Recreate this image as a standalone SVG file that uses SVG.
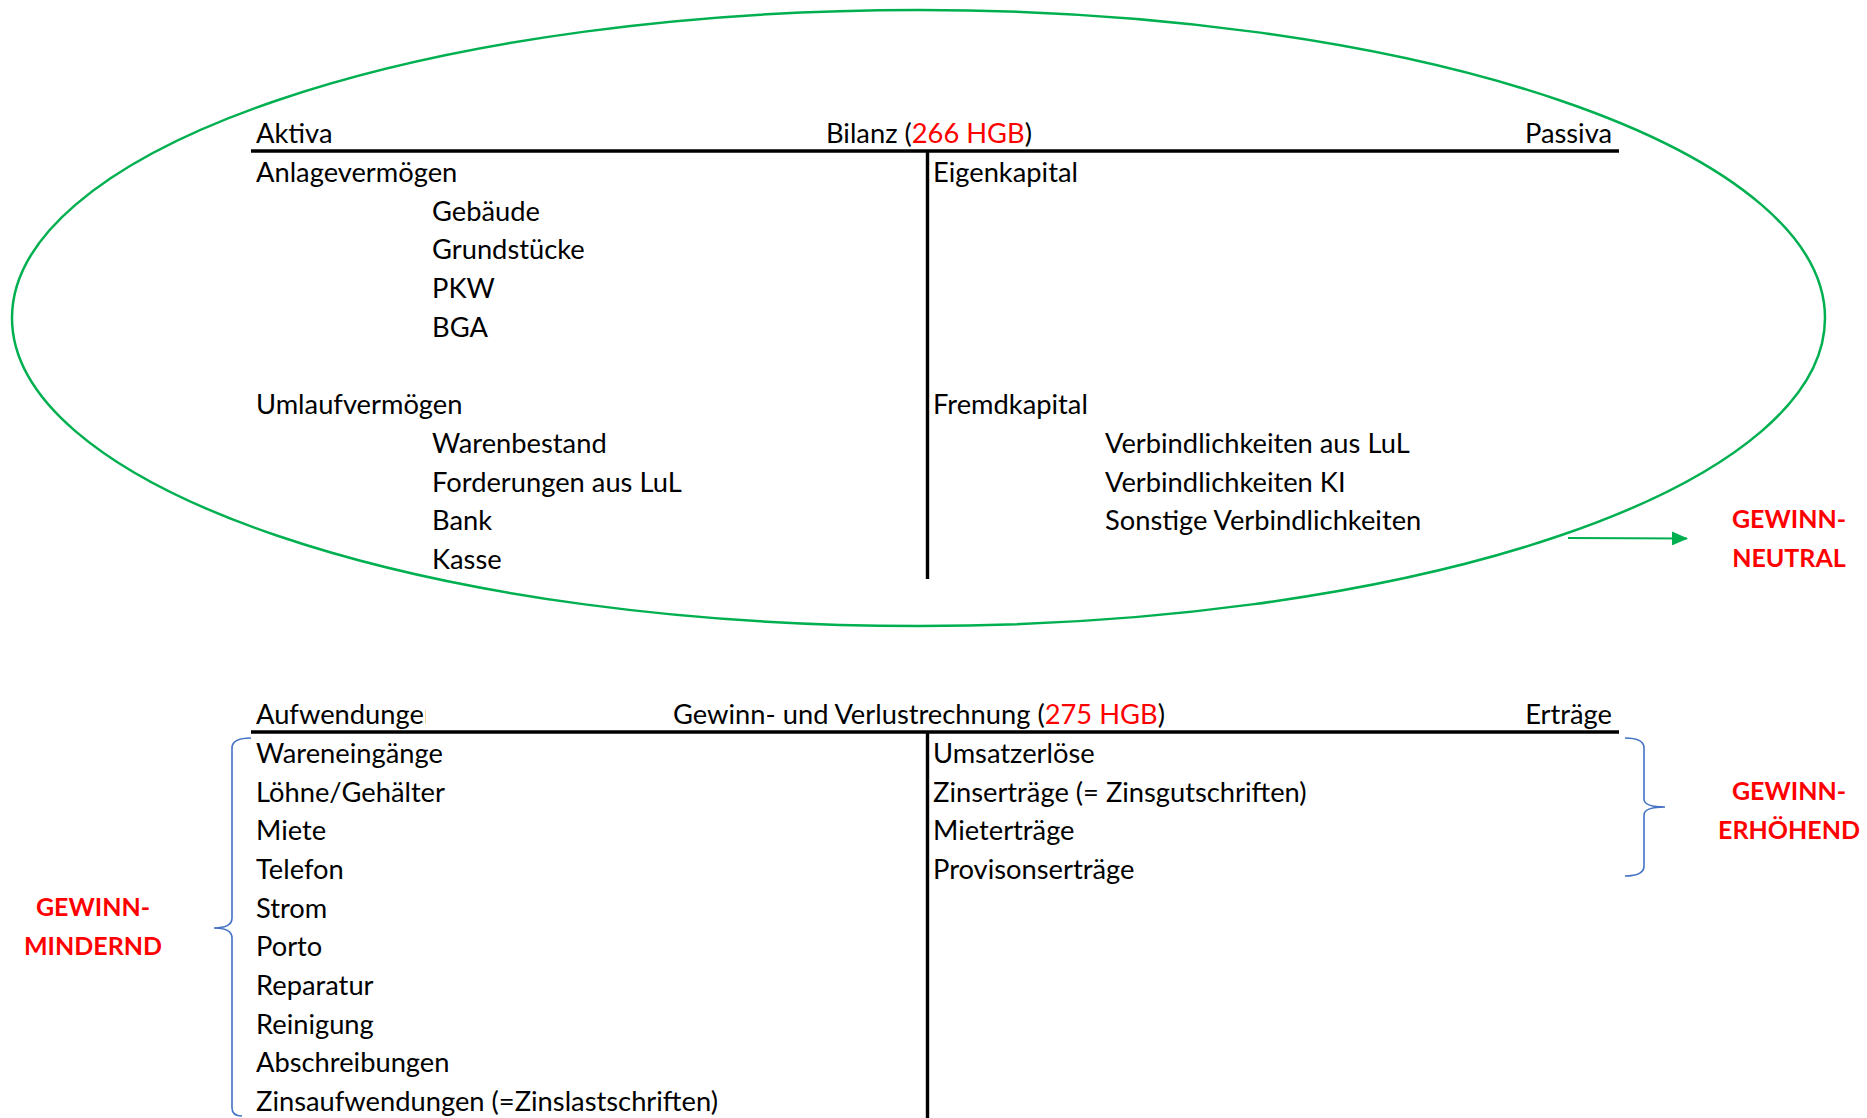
<svg xmlns="http://www.w3.org/2000/svg" width="1867" height="1118" viewBox="0 0 1867 1118">
  <style>
    text { font-family: Lato, "Open Sans", "Liberation Sans", sans-serif; font-size: 27.3px; fill: #000; }
    .red { fill: #FF0000; }
    .tag { font-weight: bold; font-size: 25px; fill: #FF0000; text-anchor: middle; }
    .rule { stroke: #000; stroke-width: 3.4; fill: none; }
    .brace { stroke: #4472C4; stroke-width: 1.6; fill: none; }
  </style>
  <defs>
    <marker id="arrowGreen" viewBox="0 0 16 14" refX="15" refY="7" markerWidth="16" markerHeight="14" markerUnits="userSpaceOnUse" orient="auto">
      <path d="M0,0 L16,7 L0,14 z" fill="#00B050"/>
    </marker>
    <clipPath id="clipAufw">
      <rect x="240" y="690" width="186" height="45"/>
    </clipPath>
  </defs>
  <rect width="1867" height="1118" fill="#fff"/>

  <!-- Bilanz T-account -->
  <g id="bilanz">
    <line class="rule" x1="251" y1="151" x2="1619" y2="151"/>
    <line class="rule" x1="927.5" y1="151" x2="927.5" y2="579"/>
    <text x="256" y="143">Aktiva</text>
    <text x="929" y="143" text-anchor="middle">Bilanz (<tspan class="red">266 HGB</tspan>)</text>
    <text x="1612" y="143" text-anchor="end">Passiva</text>

    <text x="256" y="182">Anlagevermögen</text>
    <text x="432" y="220.7">Gebäude</text>
    <text x="432" y="259.4">Grundstücke</text>
    <text x="432" y="298">PKW</text>
    <text x="432" y="336.8">BGA</text>
    <text x="256" y="414">Umlaufvermögen</text>
    <text x="432" y="453">Warenbestand</text>
    <text x="432" y="491.6">Forderungen aus LuL</text>
    <text x="432" y="530">Bank</text>
    <text x="432" y="569">Kasse</text>

    <text x="933" y="182">Eigenkapital</text>
    <text x="933" y="414">Fremdkapital</text>
    <text x="1105" y="453">Verbindlichkeiten aus LuL</text>
    <text x="1105" y="491.6">Verbindlichkeiten KI</text>
    <text x="1105" y="530">Sonstige Verbindlichkeiten</text>
  </g>

  <!-- GuV T-account -->
  <g id="guv">
    <line class="rule" x1="251" y1="732" x2="1619" y2="732"/>
    <line class="rule" x1="927.5" y1="732" x2="927.5" y2="1118"/>
    <text x="256" y="724" clip-path="url(#clipAufw)">Aufwendungen</text>
    <text x="919" y="724" text-anchor="middle">Gewinn- und Verlustrechnung (<tspan class="red">275 HGB</tspan>)</text>
    <text x="1612" y="724" text-anchor="end">Erträge</text>

    <text x="256" y="763">Wareneingänge</text>
    <text x="256" y="802">Löhne/Gehälter</text>
    <text x="256" y="840">Miete</text>
    <text x="256" y="879">Telefon</text>
    <text x="256" y="918">Strom</text>
    <text x="256" y="956">Porto</text>
    <text x="256" y="995">Reparatur</text>
    <text x="256" y="1034">Reinigung</text>
    <text x="256" y="1072">Abschreibungen</text>
    <text x="256" y="1111">Zinsaufwendungen (=Zinslastschriften)</text>

    <text x="933" y="763">Umsatzerlöse</text>
    <text x="933" y="802">Zinserträge (= Zinsgutschriften)</text>
    <text x="933" y="840">Mieterträge</text>
    <text x="933" y="879">Provisonserträge</text>
  </g>

  <!-- classification labels -->
  <g id="label-neutral">
    <text class="tag" x="1789" y="528">GEWINN-</text>
    <text class="tag" x="1789" y="567">NEUTRAL</text>
  </g>
  <g id="label-erhoehend">
    <text class="tag" x="1789" y="800">GEWINN-</text>
    <text class="tag" x="1789" y="839">ERHÖHEND</text>
  </g>
  <g id="label-mindernd">
    <text class="tag" x="93" y="916">GEWINN-</text>
    <text class="tag" x="93" y="955">MINDERND</text>
  </g>

  <!-- connectors: ellipse, arrow and braces -->
  <g id="connectors">
    <ellipse cx="918.5" cy="318" rx="906.5" ry="308" fill="none" stroke="#00B050" stroke-width="2.5"/>
    <line x1="1568" y1="538" x2="1687" y2="538.5" stroke="#00B050" stroke-width="1.8" marker-end="url(#arrowGreen)"/>
    <path class="brace" d="M251,738 Q232,738 232,748 L232,918 Q232,928 214,928 Q232,928 232,938 L232,1108 Q232,1116 242,1116"/>
    <path class="brace" d="M1625,738 Q1644,738 1644,748 L1644,799 Q1644,807 1665,807 Q1644,807 1644,815 L1644,866 Q1644,876 1625,876"/>
  </g>
</svg>
